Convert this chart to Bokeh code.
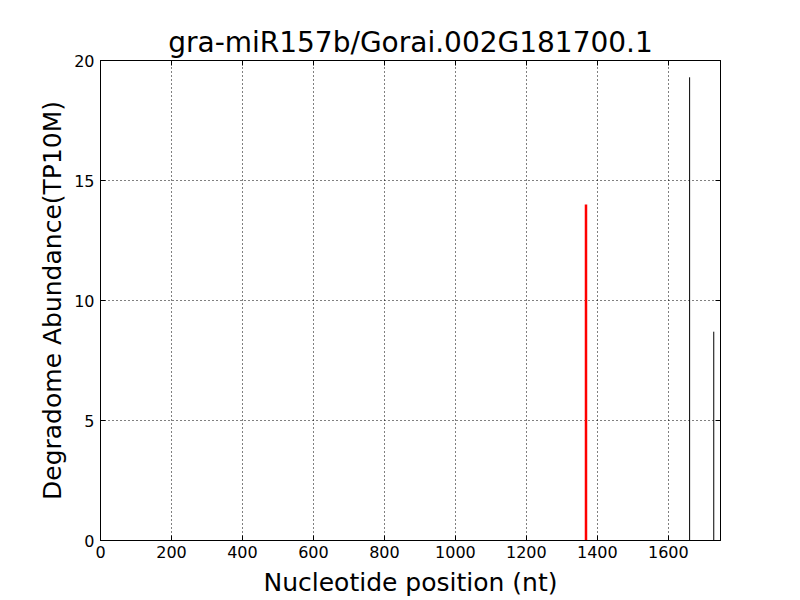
from bokeh.plotting import figure
from bokeh.models import Range1d, LinearAxis, FixedTicker
from bokeh.embed import file_html
from bokeh.resources import INLINE

title = "gra-miR157b/Gorai.002G181700.1"
x_max = 1747
cleave_pos = [1368]
cleave_val = [14.0]
other_pos = [1660, 1728]
other_val = [19.3, 8.7]
x_ticks = [0, 200, 400, 600, 800, 1000, 1200, 1400, 1600]
y_ticks = [0, 5, 10, 15, 20]

FONT = "DejaVu Sans"

p = figure(width=800, height=600, output_backend="svg", toolbar_location=None,
           x_range=Range1d(0, x_max), y_range=Range1d(0, 20),
           min_border_left=100, min_border_right=80, min_border_top=60, min_border_bottom=60,
           x_axis_location=None, y_axis_location=None)
p.frame_width = 620
p.frame_height = 480

p.title.text = title
p.title.align = "center"
p.title.text_font = FONT
p.title.text_font_size = "28px"
p.title.text_font_style = "normal"
p.title.text_color = "black"
p.title.offset = 0
p.title.standoff = 4

p.background_fill_color = "white"
p.border_fill_color = "white"
p.outline_line_color = "black"
p.outline_line_width = 1

def make_axis(cls, loc, label=None, ticks=None, show_labels=True):
    ax = cls(ticker=FixedTicker(ticks=ticks))
    ax.major_tick_in = 5
    ax.major_tick_out = 0
    ax.minor_tick_in = 0
    ax.minor_tick_out = 0
    ax.axis_line_color = "black"
    ax.major_tick_line_color = "black"
    ax.major_label_text_font = FONT
    ax.major_label_text_font_size = "16px"
    ax.major_label_text_color = "black"
    if not show_labels:
        ax.major_label_text_font_size = "0px"
        ax.major_label_text_alpha = 0
    if label:
        ax.axis_label = label
        ax.axis_label_text_font = FONT
        ax.axis_label_text_font_size = "25px"
        ax.axis_label_text_font_style = "normal"
        ax.axis_label_text_color = "black"
    p.add_layout(ax, loc)
    return ax

xb = make_axis(LinearAxis, "below", "Nucleotide position (nt)", x_ticks)
xb.major_label_standoff = 5
xb.axis_label_standoff = 7
yl = make_axis(LinearAxis, "left", "Degradome Abundance(TP10M)", y_ticks)
yl.major_label_standoff = 6
yl.axis_label_standoff = 4
make_axis(LinearAxis, "above", None, x_ticks, show_labels=False)
make_axis(LinearAxis, "right", None, y_ticks, show_labels=False)

p.xgrid.ticker = FixedTicker(ticks=x_ticks)
p.ygrid.ticker = FixedTicker(ticks=y_ticks)
for g in (p.xgrid, p.ygrid):
    g.grid_line_color = "black"
    g.grid_line_dash = "1 3"
    g.grid_line_width = 1

p.segment(x0=other_pos, y0=[0] * len(other_pos), x1=other_pos, y1=other_val,
          line_color="black", line_width=1)
p.segment(x0=cleave_pos, y0=[0] * len(cleave_pos), x1=cleave_pos, y1=cleave_val,
          line_color="red", line_width=2.5)

open("out.html", "w").write(file_html(p, INLINE))
